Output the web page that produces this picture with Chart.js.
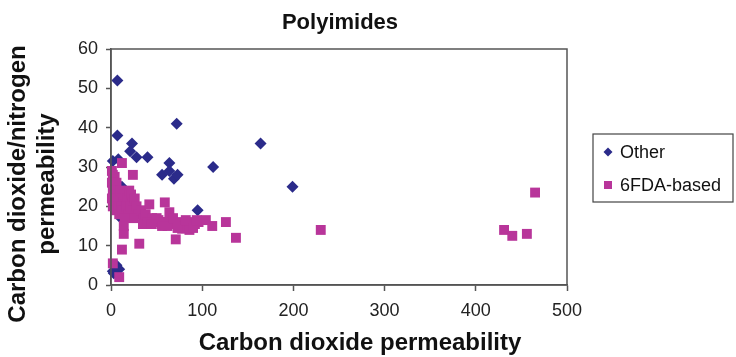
<!DOCTYPE html>
<html>
<head>
<meta charset="utf-8">
<script src="https://cdn.jsdelivr.net/npm/chart.js@4/dist/chart.umd.min.js"></script>
<style>
html,body{margin:0;padding:0;background:#fff;}
#wrap{width:736px;height:357px;position:relative;}
</style>
</head>
<body>
<div id="wrap"><canvas id="c" width="736" height="357"></canvas></div>
<script>
const chartTitle = "Polyimides";
const xTitle = "Carbon dioxide permeability";
const yTitleLines = ["Carbon dioxide/nitrogen", "permeability"];
const seriesNames = ["Other", "6FDA-based"];
const xTicks = [0, 100, 200, 300, 400, 500];
const yTicks = [0, 10, 20, 30, 40, 50, 60];

const otherX = [7, 72, 7, 23, 21, 28, 40, 2, 8, 112, 64, 56, 64, 69, 73, 164, 199, 95, 12, 11, 3, 6, 9, 2];
const otherY = [52, 41, 38, 36, 34, 32.5, 32.5, 31.5, 32, 30, 31, 28, 29, 27, 28, 36, 25, 19, 25, 17, 3, 5, 4, 3.5];

const fdaX = [12, 24, 1, 2, 4, 1, 3, 6, 2, 5, 1, 3, 7, 2, 5, 8, 10, 12, 14, 9, 11, 13, 16, 18, 20, 22, 24, 17, 19, 21, 23, 26, 28, 30, 25, 15, 33, 36, 38, 42, 45, 48, 52, 55, 59, 64, 60, 66, 70, 75, 80, 84, 88, 92, 96, 78, 86, 104, 111, 126, 137, 71, 31, 12, 14, 14, 2, 9, 230, 465, 431, 440, 456, 35, 40, 50, 58, 62, 68, 73, 82, 90, 94, 44, 56];
const fdaY = [31, 28, 29, 28, 27.5, 26, 25, 26, 24, 23, 22, 21, 22, 20, 19, 20, 24, 22, 21, 18, 20, 19, 23, 22, 24, 23, 21, 20, 18, 20, 19, 22, 20, 18, 17, 17, 19, 17, 18, 20.5, 17, 16, 16.5, 15.5, 21, 18.5, 16, 16, 15.5, 16, 15, 16, 15, 15.5, 16, 14.3, 14, 16.5, 15, 16, 12, 11.6, 10.5, 9, 13, 15, 5.5, 2, 14, 23.5, 14, 12.5, 13, 15.5, 16, 17, 16, 15, 17, 14.5, 16.5, 14.5, 16.5, 15.5, 15];

const toPts = (xs, ys) => xs.map((x, i) => ({x: x, y: ys[i]}));
const FONT = "'Liberation Sans', Arial, sans-serif";
const AXIS = '#555555';
const NAVY = '#2B2B8A';
const PINK = '#B8359A';

const decor = {
  id: 'decor',
  afterDraw(chart) {
    const ctx = chart.ctx, a = chart.chartArea;
    ctx.save();
    ctx.strokeStyle = AXIS; ctx.lineWidth = 1.5;
    ctx.strokeRect(a.left, a.top, a.right - a.left, a.bottom - a.top);
    ctx.fillStyle = '#111';
    ctx.textAlign = 'center'; ctx.textBaseline = 'middle';
    ctx.font = "bold 22px " + FONT;
    ctx.fillText(chartTitle, 340, 23);
    ctx.font = "bold 24px " + FONT;
    ctx.fillText(xTitle, 360, 343);
    const ycen = 184;
    [[18, yTitleLines[0]], [47, yTitleLines[1]]].forEach(([x, t]) => {
      ctx.save(); ctx.translate(x, ycen); ctx.rotate(-Math.PI / 2);
      ctx.fillText(t, 0, 0); ctx.restore();
    });
    const lx = 593, ly = 134, lw = 140, lh = 68;
    ctx.strokeStyle = '#444'; ctx.lineWidth = 1.2;
    ctx.strokeRect(lx, ly, lw, lh);
    ctx.font = "18px " + FONT;
    ctx.textAlign = 'left';
    chart.data.datasets.forEach((ds, i) => {
      const cy = ly + 18 + i * 33;
      ctx.fillStyle = ds.backgroundColor;
      ctx.beginPath();
      if (ds.pointStyle === 'rectRot') {
        const r = 4.5;
        ctx.moveTo(608, cy - r); ctx.lineTo(608 + r, cy); ctx.lineTo(608, cy + r); ctx.lineTo(608 - r, cy); ctx.closePath();
      } else {
        ctx.rect(604, cy - 4, 8, 8);
      }
      ctx.fill();
      ctx.fillStyle = '#111';
      ctx.fillText(ds.label, 620, cy + 1);
    });
    ctx.restore();
  }
};

new Chart(document.getElementById('c'), {
  type: 'scatter',
  data: {
    datasets: [
      { label: seriesNames[0], data: toPts(otherX, otherY), pointStyle: 'rectRot', radius: 6, backgroundColor: NAVY, borderColor: NAVY, borderWidth: 0, order: 1, clip: false },
      { label: seriesNames[1], data: toPts(fdaX, fdaY), pointStyle: 'rect', radius: 7, backgroundColor: PINK, borderColor: PINK, borderWidth: 0, order: 0, clip: false }
    ]
  },
  options: {
    responsive: false,
    animation: false,
    layout: { padding: { top: 49, right: 169, left: 0, bottom: 0 } },
    plugins: { legend: { display: false }, title: { display: false }, tooltip: { enabled: false } },
    scales: {
      x: {
        type: 'linear', min: 0, max: 500,
        afterFit: s => { s.height = 72; },
        afterBuildTicks: s => { s.ticks = xTicks.map(v => ({value: v})); },
        border: { display: true, color: AXIS, width: 1.5 },
        grid: { display: true, drawOnChartArea: false, drawTicks: true, tickLength: 6, tickColor: AXIS, tickWidth: 1.5 },
        ticks: { color: '#222', font: { family: FONT, size: 18 }, padding: 9 }
      },
      y: {
        type: 'linear', min: 0, max: 60,
        afterFit: s => { s.width = 111; },
        afterBuildTicks: s => { s.ticks = yTicks.map(v => ({value: v})); },
        border: { display: true, color: AXIS, width: 1.5 },
        grid: { display: true, drawOnChartArea: false, drawTicks: true, tickLength: 5, tickColor: AXIS, tickWidth: 1.5 },
        ticks: { color: '#222', font: { family: FONT, size: 18 }, padding: 8 }
      }
    }
  },
  plugins: [decor]
});
</script>
</body>
</html>
